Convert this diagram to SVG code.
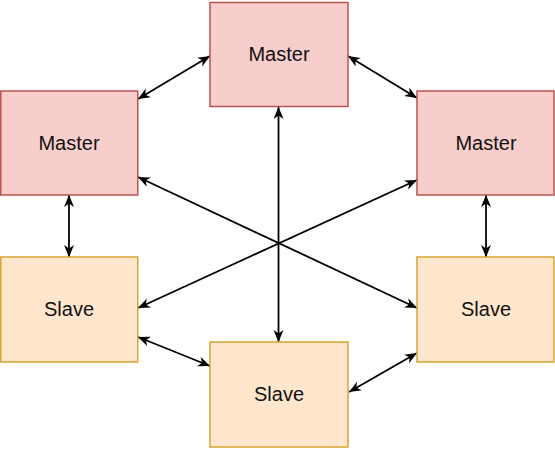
<svg xmlns="http://www.w3.org/2000/svg" width="555" height="449" viewBox="0 0 555 449">
<style>
.master rect{fill:#f8cecc;stroke:#b85450;stroke-width:1.5}
.slave rect{fill:#ffe6cc;stroke:#d6a535;stroke-width:1.5}
text{font-family:"Liberation Sans",Arial,sans-serif;font-size:20px;fill:#111;text-anchor:middle}
#connectors path{fill:none;stroke:#000;stroke-width:1.8;marker-start:url(#arr);marker-end:url(#arr)}
</style>
<defs>
<marker id="arr" markerUnits="userSpaceOnUse" markerWidth="13" markerHeight="11" refX="12" refY="5" orient="auto-start-reverse" viewBox="0 0 13 10">
<path d="M0,0 L12,5 L0,10 L3.5,5 z" fill="#000"/>
</marker>
</defs>
<rect width="555" height="449" fill="#fff"/>
<g id="connectors">
<path d="M138,99 L210,56"/>
<path d="M348,56 L417,98"/>
<path d="M69,195 L69,257"/>
<path d="M486,195 L486,257"/>
<path d="M278.5,107 L278.5,342"/>
<path d="M138,177 L417,308"/>
<path d="M417,180 L138,308"/>
<path d="M138,337 L210,366"/>
<path d="M349,392 L417,353"/>
</g>
<g id="master-top" class="master"><rect x="210" y="2.5" width="138" height="104"/><text x="279" y="61">Master</text></g>
<g id="master-left" class="master"><rect x="0.75" y="91" width="137" height="104"/><text x="69" y="150">Master</text></g>
<g id="master-right" class="master"><rect x="417" y="91" width="137" height="104"/><text x="486" y="150">Master</text></g>
<g id="slave-left" class="slave"><rect x="0.75" y="257" width="137" height="105"/><text x="69" y="316">Slave</text></g>
<g id="slave-bottom" class="slave"><rect x="210" y="342" width="138" height="105"/><text x="279" y="401">Slave</text></g>
<g id="slave-right" class="slave"><rect x="417" y="257" width="137" height="105"/><text x="486" y="316">Slave</text></g>
</svg>
